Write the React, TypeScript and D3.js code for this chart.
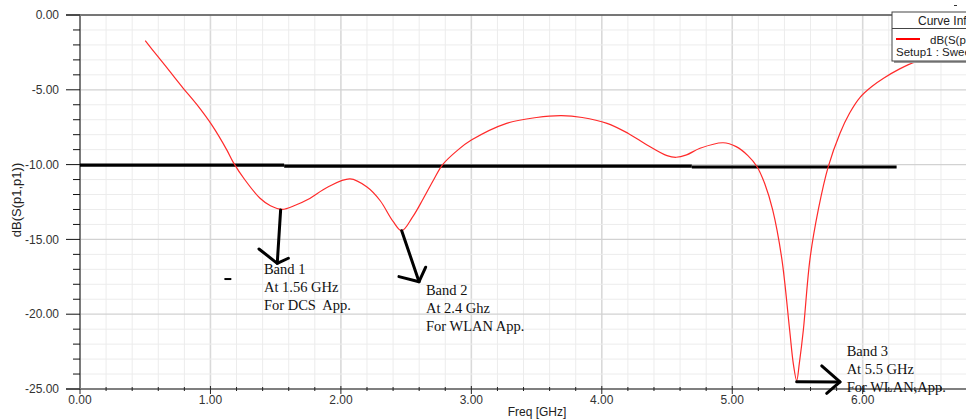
import React from "react";
import * as d3 from "d3";

// S11 curve (GHz, dB)
const freq = [0.5, 0.59, 0.69, 0.79, 0.895, 1.01, 1.124, 1.175, 1.265, 1.38, 1.46, 1.55, 1.65, 1.75, 1.9, 2.07, 2.2, 2.3, 2.4, 2.466, 2.55, 2.63, 2.71, 2.78, 2.9, 3.0, 3.27, 3.5, 3.69, 3.85, 4.04, 4.2, 4.35, 4.5, 4.57, 4.65, 4.753, 4.93, 5.03, 5.12, 5.19, 5.25, 5.31, 5.38, 5.44, 5.468, 5.494, 5.514, 5.545, 5.596, 5.66, 5.736, 5.826, 5.9, 5.98, 6.07, 6.16, 6.28, 6.41, 6.6, 6.79];
const s11 = [-1.72, -2.7, -3.79, -4.88, -5.98, -7.35, -9.0, -9.85, -11.03, -12.25, -12.75, -12.99, -12.72, -12.32, -11.5, -10.96, -11.5, -12.4, -13.8, -14.42, -13.5, -12.3, -11.03, -10.0, -9.0, -8.36, -7.24, -6.85, -6.73, -6.85, -7.24, -7.9, -8.7, -9.4, -9.51, -9.35, -8.91, -8.54, -8.8, -9.4, -10.14, -11.3, -13.03, -16.3, -21.06, -23.3, -24.44, -23.3, -21.06, -16.3, -13.0, -10.14, -7.9, -6.55, -5.5, -4.78, -4.23, -3.62, -3.12, -2.7, -2.45];

// -10 dB reference line (hand drawn, slightly stepped)
const refStart = [0, 1.565, 4.69];
const refEnd = [1.565, 4.69, 6.26];
const refLevel = [-10.03, -10.1, -10.16];

// axis ticks
const xTicks = [0, 1, 2, 3, 4, 5, 6];
const yTicks = [0, -5, -10, -15, -20, -25];

// annotations
const bandLines = [
  ["Band 1", "At 1.56 GHz", "For DCS  App."],
  ["Band 2", "At 2.4 Ghz", "For WLAN App."],
  ["Band 3", "At 5.5 GHz", "For WLAN,App."],
];
const bandTextX = [1.41, 2.652, 5.877];
const bandTextY = [-17.31, -18.72, -22.79];
const arrowShaft = [
  [[1.538, -13.03], [1.512, -16.6]],
  [[2.466, -14.42], [2.599, -17.83]],
  [[5.494, -24.51], [5.826, -24.53]],
];
const arrowHead = [
  [[1.372, -15.64], [1.512, -16.6], [1.597, -16.26]],
  [[2.445, -17.49], [2.599, -17.83], [2.65, -16.86]],
  [[5.686, -23.46], [5.826, -24.53], [5.724, -25.29]],
];
const dashMark = [1.107, 1.16, -17.65];

export default function App() {
  const W = 966, H = 419;
  const x = d3.scaleLinear().domain([0, 6.8]).range([80, 80 + 6.8 * 130.45]);
  const y = d3.scaleLinear().domain([-25, 0]).range([389, 15]);

  const minorX = d3.range(0, 6.81, 0.2);
  const minorY = d3.range(-25, 0.01, 1);

  const pts: [number, number][] = freq.map((f, i) => [f, s11[i]]);
  const line = d3
    .line<[number, number]>()
    .x((d) => x(d[0]))
    .y((d) => y(d[1]))
    .curve(d3.curveCatmullRom.alpha(0.5));
  const poly = d3
    .line<number[]>()
    .x((d) => x(d[0]))
    .y((d) => y(d[1]));

  const sans = "'Liberation Sans', Arial, sans-serif";
  const serif = "'Liberation Serif', 'Times New Roman', serif";

  return (
    <svg width={W} height={H} style={{ position: "absolute", left: 0, top: 0, background: "#fff" }}>
      {/* grid */}
      {minorX.map((v, i) => {
        const major = Math.abs(v - Math.round(v)) < 1e-6;
        return (
          <line key={"gx" + i} x1={x(v)} x2={x(v)} y1={15} y2={389}
            stroke={major ? "#d9d9d9" : "#ececec"} strokeWidth={major ? 1.6 : 1} />
        );
      })}
      {minorY.map((v, i) => {
        const major = Math.abs(v % 5) < 1e-6;
        return (
          <line key={"gy" + i} x1={80} x2={W} y1={y(v)} y2={y(v)}
            stroke={major ? "#d2d2d2" : "#ececec"} strokeWidth={major ? 1.3 : 1} />
        );
      })}

      {/* top border */}
      <line x1={66} x2={W} y1={15} y2={15} stroke="#111" strokeWidth={1} />
      {/* x axis */}
      <line x1={66} x2={W} y1={389} y2={389} stroke="#222" strokeWidth={1.2} />
      {minorX.map((v, i) => {
        const major = Math.abs(v - Math.round(v)) < 1e-6;
        return (
          <line key={"tx" + i} x1={x(v)} x2={x(v)} y1={major ? 386 : 387} y2={major ? 394 : 391}
            stroke="#222" strokeWidth={1} />
        );
      })}
      {/* y axis */}
      <line x1={80} x2={80} y1={15} y2={389} stroke="#7a7a7a" strokeWidth={2} />
      {minorY.map((v, i) => {
        const major = Math.abs(v % 5) < 1e-6;
        return (
          <line key={"ty" + i} x1={major ? 66 : 73} x2={80} y1={y(v)} y2={y(v)} stroke="#111" strokeWidth={1} />
        );
      })}

      {/* tick labels */}
      {yTicks.map((v) => (
        <text key={"yl" + v} x={59} y={y(v)} dy="0.35em" textAnchor="end" fontFamily={sans} fontSize={12} fill="#333">
          {v.toFixed(2)}
        </text>
      ))}
      {xTicks.map((v) => (
        <text key={"xl" + v} x={x(v)} y={404} textAnchor="middle" fontFamily={sans} fontSize={12} fill="#333">
          {v.toFixed(2)}
        </text>
      ))}
      <text x={537} y={416} textAnchor="middle" fontFamily={sans} fontSize={12} fill="#222">
        Freq [GHz]
      </text>
      <text transform="translate(21,200) rotate(-90)" textAnchor="middle" fontFamily={sans} fontSize={13} fill="#222">
        dB(S(p1,p1))
      </text>

      {/* reference line */}
      {refStart.map((s, i) => (
        <line key={"ref" + i} x1={x(s)} x2={x(refEnd[i])} y1={y(refLevel[i])} y2={y(refLevel[i])}
          stroke="#000" strokeWidth={3.2} />
      ))}

      {/* curve */}
      <path d={line(pts) || ""} fill="none" stroke="#ff2a2a" strokeWidth={1.2} />

      {/* arrows */}
      {arrowShaft.map((s, i) => (
        <g key={"ar" + i} fill="none" stroke="#000" strokeWidth={3} strokeLinecap="round" strokeLinejoin="round">
          <path d={poly(s) || ""} />
          <path d={poly(arrowHead[i]) || ""} />
        </g>
      ))}
      <line x1={x(dashMark[0])} x2={x(dashMark[1])} y1={y(dashMark[2])} y2={y(dashMark[2])} stroke="#000" strokeWidth={2} />

      {/* band labels */}
      {bandLines.map((lines, i) => (
        <text key={"bt" + i} fontFamily={serif} fontSize={14.5} fill="#111" style={{ whiteSpace: "pre" }}>
          {lines.map((t, j) => (
            <tspan key={j} x={x(bandTextX[i])} y={y(bandTextY[i]) + j * 17.8}>
              {t}
            </tspan>
          ))}
        </text>
      ))}

      {/* legend */}
      <rect x={894} y={14} width={80} height={49} fill="#9a9a9a" />
      <rect x={892} y={12} width={80} height={49} fill="#fff" stroke="#444" strokeWidth={1} />
      <line x1={892} x2={972} y1={28.5} y2={28.5} stroke="#444" strokeWidth={1} />
      <text x={918} y={25} fontFamily={sans} fontSize={12} fill="#222">Curve Info</text>
      <line x1={896} x2={920} y1={39} y2={39} stroke="#ff0000" strokeWidth={2} />
      <text x={930} y={44} fontFamily={sans} fontSize={11.5} fill="#222">dB(S(p1,p1))</text>
      <text x={896} y={56} fontFamily={sans} fontSize={11.5} fill="#222">Setup1 : Sweep</text>
      <line x1={954} x2={957} y1={5.5} y2={5.5} stroke="#333" strokeWidth={1} />
    </svg>
  );
}
